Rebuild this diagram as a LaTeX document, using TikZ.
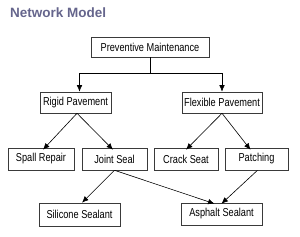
\documentclass[tikz,border=0pt]{standalone}
\usepackage{fontspec}
\setmainfont{Liberation Sans}[FakeStretch=0.8]
\newfontfamily\titlefont{Liberation Sans}
\usepackage{tikz}
\usetikzlibrary{arrows.meta}
\usepackage{xcolor}
\definecolor{titleink}{HTML}{65658C}
\definecolor{boxline}{HTML}{3A3A3A}
\tikzset{
  item/.style={draw=boxline, line width=0.6pt, fill=white, align=center,
    inner sep=1pt, font=\fontsize{11.5}{13}\selectfont},
  flow/.style={-{Latex[length=6.5pt, width=5.5pt]}, line width=0.6pt, draw=black}
}

\begin{document}
\begin{tikzpicture}[x=1pt, y=-1pt]
  \useasboundingbox (0,0) rectangle (300,237);
  \node[anchor=base west, text=titleink, font=\titlefont\bfseries\fontsize{13.5}{15}\selectfont,
    inner sep=0pt] (title) at (10,18) {Network Model};

  \node[item, minimum width=118pt, minimum height=20pt] (prev) at (150,47) {Preventive Maintenance};
  \node[item, minimum width=71pt, minimum height=21pt] (rigid) at (75.5,102.5) {Rigid Pavement};
  \node[item, minimum width=80pt, minimum height=21pt] (flex) at (222,102.5) {Flexible Pavement};

  \node[item, minimum width=66pt, minimum height=22pt] (spall) at (41,159) {Spall Repair};
  \node[item, minimum width=65pt, minimum height=22pt] (joint) at (114.5,159) {Joint Seal};
  \node[item, minimum width=64pt, minimum height=22pt] (crack) at (186,159) {Crack Seat};
  \node[item, minimum width=63pt, minimum height=22pt] (patch) at (256.5,159) {Patching};

  \node[item, minimum width=81pt, minimum height=23pt] (silicone) at (79.5,214.5) {Silicone Sealant};
  \node[item, minimum width=81pt, minimum height=22pt] (asphalt) at (221.5,214) {Asphalt Sealant};

  % top split
  \coordinate (split) at (150,73);
  \draw[line width=0.6pt] (prev.south) -- (split);
  \draw[flow] (split) -| ([xshift=4pt]rigid.north);
  \draw[flow] (split) -| (flex.north);

  % pavement types
  \draw[flow] ([xshift=1.5pt]rigid.south) -- ([xshift=2pt,yshift=-2pt]spall.north);
  \draw[flow] ([xshift=1.5pt]rigid.south) -- ([xshift=-1.5pt,yshift=-2pt]joint.north);
  \draw[flow] (flex.south) -- ([yshift=-2pt]crack.north);
  \draw[flow] (flex.south) -- ([xshift=-6pt,yshift=-2pt]patch.north);

  % sealants
  \draw[flow] (joint.south) -- ([xshift=2.5pt]silicone.north);
  \draw[flow] (joint.south) -- ([xshift=-7pt,yshift=-1pt]asphalt.north);
  \draw[flow] ([xshift=1pt]patch.south) -- ([yshift=-1pt]asphalt.north);
\end{tikzpicture}
\end{document}
